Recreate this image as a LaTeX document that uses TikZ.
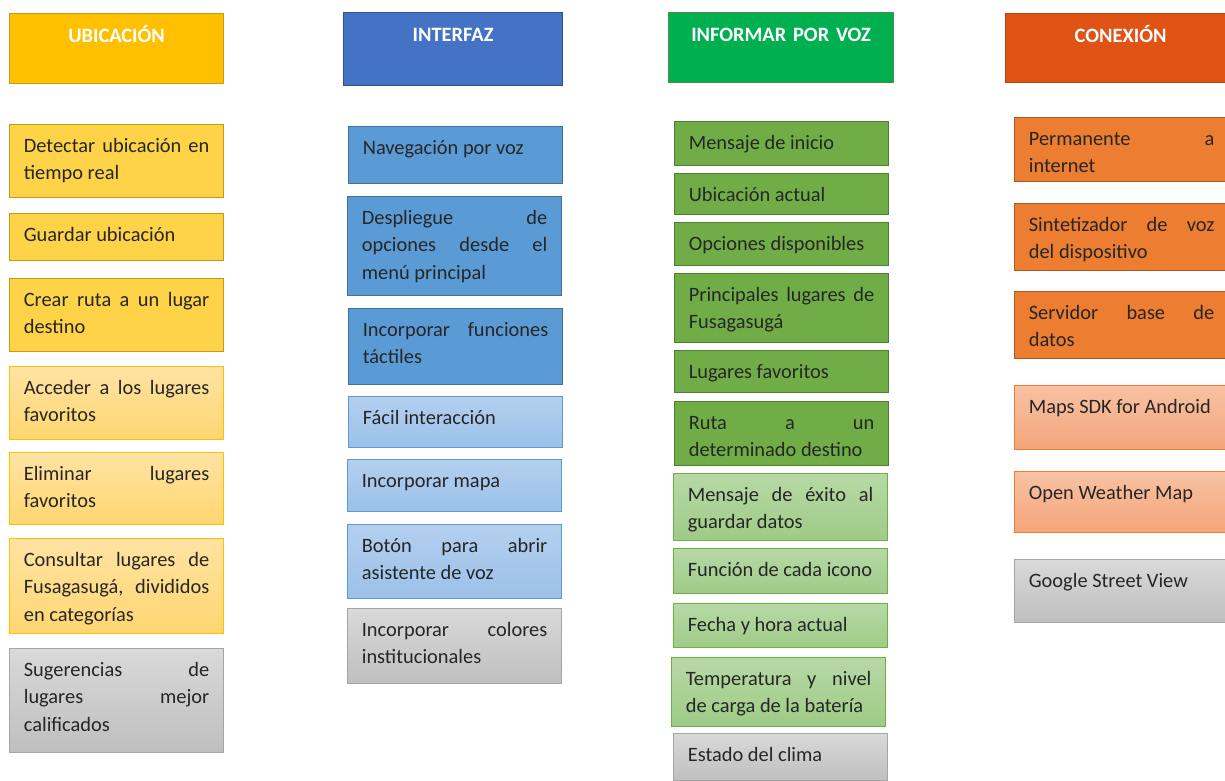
\documentclass[tikz,border=0pt]{standalone}
\usepackage{fontspec}
\setmainfont{Carlito}
\usepackage{tikz}
\hyphenpenalty=10000
\exhyphenpenalty=10000
\tolerance=10000
\hbadness=10000

\definecolor{ubiHead}{HTML}{FFC000}
\definecolor{ubiHeadLine}{HTML}{C99A12}
\definecolor{ubiDark}{HTML}{FFD347}
\definecolor{ubiDarkLine}{HTML}{C49A10}
\definecolor{ubiTop}{HTML}{FFE3A3}
\definecolor{ubiBot}{HTML}{FFD670}
\definecolor{intHead}{HTML}{4472C4}
\definecolor{intHeadLine}{HTML}{2F528F}
\definecolor{intDark}{HTML}{5B9BD5}
\definecolor{intDarkLine}{HTML}{41719C}
\definecolor{intTop}{HTML}{B4CFEE}
\definecolor{intBot}{HTML}{9BC1E8}
\definecolor{vozHead}{HTML}{00B050}
\definecolor{vozHeadLine}{HTML}{4E8F3A}
\definecolor{vozDark}{HTML}{70AD47}
\definecolor{vozDarkLine}{HTML}{507E32}
\definecolor{vozTop}{HTML}{B7D9A6}
\definecolor{vozBot}{HTML}{9ECB86}
\definecolor{conHead}{HTML}{E05314}
\definecolor{conHeadLine}{HTML}{C0440E}
\definecolor{conDark}{HTML}{ED7D31}
\definecolor{conDarkLine}{HTML}{AE5A21}
\definecolor{conTop}{HTML}{F8C2A3}
\definecolor{conBot}{HTML}{F4A57A}
\definecolor{grisTop}{HTML}{D9D9D9}
\definecolor{grisBot}{HTML}{BFBFBF}
\definecolor{grisLine}{HTML}{A5A5A5}

\begin{document}
\begin{tikzpicture}[x=1pt,y=-1pt,
    item/.style={rectangle, draw, line width=1.2pt, anchor=north west,
        inner xsep=14.25pt, inner ysep=0pt, text width=185.5pt, align=justify,
        text height=27.5pt, text=black!85,
        font=\fontsize{20.4}{27.5}\selectfont},
    head/.style={item, align=center, text=white, text height=28.5pt,
        font=\bfseries\fontsize{20.4}{27.5}\selectfont},
    boxh/.style={text depth=#1-27.5},
    ubiH/.style={fill=ubiHead, draw=ubiHeadLine},
    ubiA/.style={fill=ubiDark, draw=ubiDarkLine},
    ubiB/.style={top color=ubiTop, bottom color=ubiBot, draw=ubiHead},
    intH/.style={fill=intHead, draw=intHeadLine},
    intA/.style={fill=intDark, draw=intDarkLine},
    intB/.style={top color=intTop, bottom color=intBot, draw=intDark},
    vozH/.style={fill=vozHead, draw=vozHeadLine},
    vozA/.style={fill=vozDark, draw=vozDarkLine},
    vozB/.style={top color=vozTop, bottom color=vozBot, draw=vozDark},
    conH/.style={fill=conHead, draw=conHeadLine},
    conA/.style={fill=conDark, draw=conDarkLine},
    conB/.style={top color=conTop, bottom color=conBot, draw=conDark},
    gris/.style={top color=grisTop, bottom color=grisBot, draw=grisLine}]

    \fill[white] (0,0) rectangle (1225,780);
    \useasboundingbox (0,0) rectangle (1225,780);

    \node[head, ubiH, boxh=69] (u_0) at (9,13) {UBICACIÓN};
    \node[item, ubiA, boxh=73] (u_1) at (9,124) {Detectar ubicación en\linebreak tiempo real};
    \node[item, ubiA, boxh=47] (u_2) at (9,213) {Guardar ubicación};
    \node[item, ubiA, boxh=73] (u_3) at (9,278) {Crear ruta a un lugar\linebreak destino};
    \node[item, ubiB, boxh=73] (u_4) at (9,366) {Acceder a los lugares\linebreak favoritos};
    \node[item, ubiB, boxh=72] (u_5) at (9,452) {Eliminar lugares\linebreak favoritos};
    \node[item, ubiB, boxh=95] (u_6) at (9,538) {Consultar lugares de\linebreak Fusagasugá, divididos\linebreak en categorías};
    \node[item, gris, boxh=104] (u_7) at (9,648) {Sugerencias de\linebreak lugares mejor\linebreak calificados};

    \node[head, intH, boxh=72, text width=190.5pt] (i_0) at (343,12) {INTERFAZ};
    \node[item, intA, boxh=57] (i_1) at (348,126) {Navegación por voz};
    \node[item, intA, boxh=99] (i_2) at (347,196) {Despliegue de\linebreak opciones desde el\linebreak menú principal};
    \node[item, intA, boxh=76] (i_3) at (348,308) {Incorporar funciones\linebreak táctiles};
    \node[item, intB, boxh=51] (i_4) at (348,396) {Fácil interacción};
    \node[item, intB, boxh=52] (i_5) at (347,459) {Incorporar mapa};
    \node[item, intB, boxh=74] (i_6) at (347,524) {Botón para abrir\linebreak asistente de voz};
    \node[item, gris, boxh=75] (i_7) at (347,608) {Incorporar colores\linebreak institucionales};

    \node[head, vozH, boxh=69, text width=196.5pt] (v_0) at (668,12) {INFORMAR POR VOZ};
    \node[item, vozA, boxh=44] (v_1) at (674,121) {Mensaje de inicio};
    \node[item, vozA, boxh=41] (v_2) at (674,173) {Ubicación actual};
    \node[item, vozA, boxh=43] (v_3) at (674,222) {Opciones disponibles};
    \node[item, vozA, boxh=69] (v_4) at (674,273) {Principales lugares de\linebreak Fusagasugá};
    \node[item, vozA, boxh=42] (v_5) at (674,350) {Lugares favoritos};
    \node[item, vozA, boxh=64] (v_6) at (674,401) {Ruta a un\linebreak determinado destino};
    \node[item, vozB, boxh=67] (v_7) at (673,473) {Mensaje de éxito al\linebreak guardar datos};
    \node[item, vozB, boxh=45] (v_8) at (673,548) {Función de cada icono};
    \node[item, vozB, boxh=44] (v_9) at (673,603) {Fecha y hora actual};
    \node[item, vozB, boxh=69] (v_10) at (671,657) {Temperatura y nivel\linebreak de carga de la batería};
    \node[item, gris, boxh=47] (v_11) at (673,733) {Estado del clima};

    \node[head, conH, boxh=68, text width=201.5pt] (c_0) at (1005,13) {CONEXIÓN};
    \node[item, conA, boxh=64] (c_1) at (1014,117) {Permanente a\linebreak internet};
    \node[item, conA, boxh=67] (c_2) at (1014,203) {Sintetizador de voz\linebreak del dispositivo};
    \node[item, conA, boxh=67] (c_3) at (1014,291) {Servidor base de\linebreak datos};
    \node[item, conB, boxh=64] (c_4) at (1014,385) {Maps SDK for Android};
    \node[item, conB, boxh=61] (c_5) at (1014,471) {Open Weather Map};
    \node[item, gris, boxh=63] (c_6) at (1014,559) {Google Street View};
\end{tikzpicture}
\end{document}
